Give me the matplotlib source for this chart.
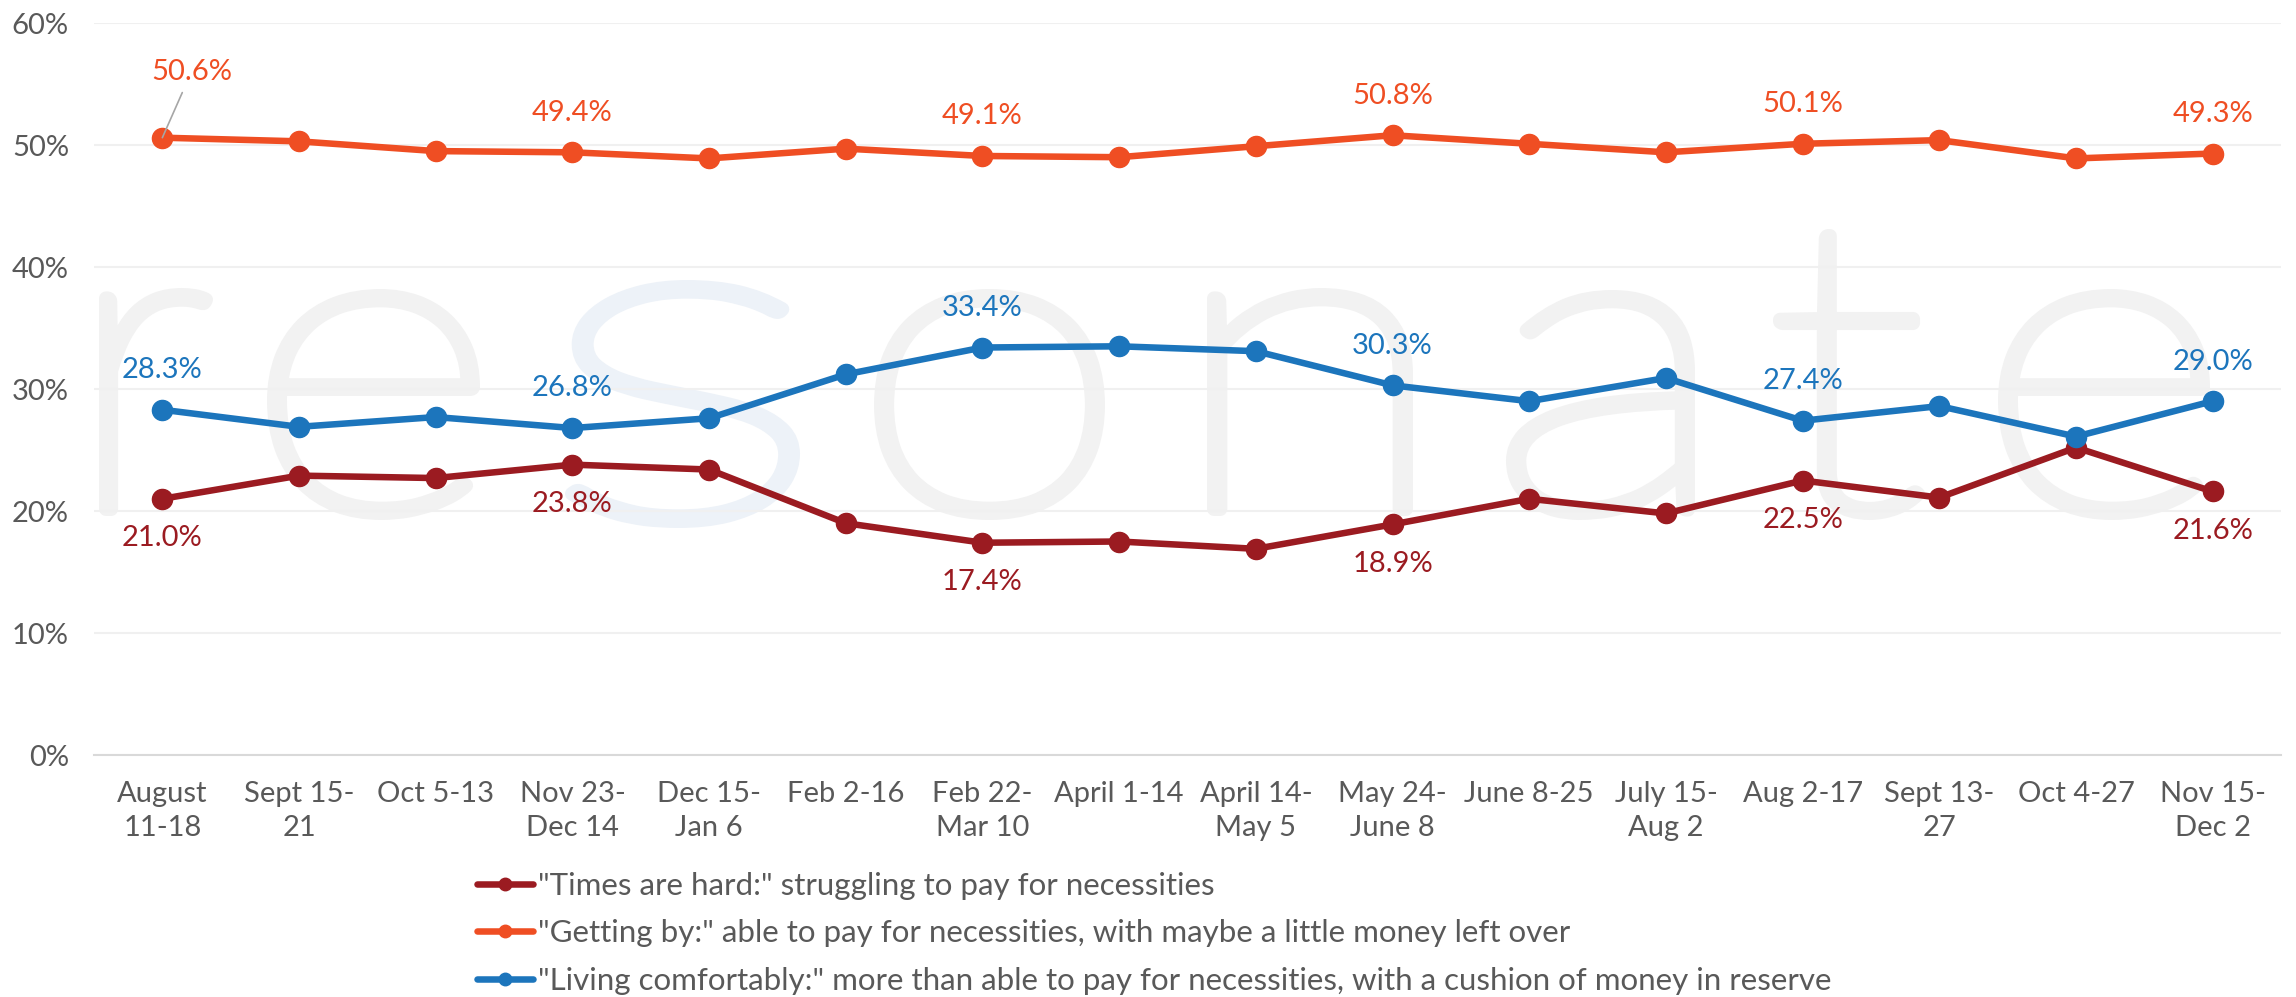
import matplotlib
matplotlib.use("Agg")
import matplotlib.pyplot as plt
from matplotlib.ticker import FuncFormatter, MultipleLocator
from matplotlib.textpath import TextPath
from matplotlib.patches import PathPatch
from matplotlib.font_manager import FontProperties
from matplotlib.transforms import Affine2D, IdentityTransform
import numpy as np

PERIODS = ["August\n11-18", "Sept 15-\n21", "Oct 5-13", "Nov 23-\nDec 14",
           "Dec 15-\nJan 6", "Feb 2-16", "Feb 22-\nMar 10", "April 1-14",
           "April 14-\nMay 5", "May 24-\nJune 8", "June 8-25", "July 15-\nAug 2",
           "Aug 2-17", "Sept 13-\n27", "Oct 4-27", "Nov 15-\nDec 2"]
HARD = [21.0, 22.9, 22.7, 23.8, 23.4, 19.0, 17.4, 17.5,
        16.9, 18.9, 21.0, 19.8, 22.5, 21.1, 25.2, 21.6]
GETTING_BY = [50.6, 50.3, 49.5, 49.4, 48.9, 49.7, 49.1, 49.0,
              49.9, 50.8, 50.1, 49.4, 50.1, 50.4, 48.9, 49.3]
COMFORTABLE = [28.3, 26.9, 27.7, 26.8, 27.6, 31.2, 33.4, 33.5,
               33.1, 30.3, 29.0, 30.9, 27.4, 28.6, 26.1, 29.0]
LABELED = [0, 3, 6, 9, 12, 15]

SERIES = [
    ("\"Times are hard:\" struggling to pay for necessities",
     HARD, "#9B1B21", -1),
    ("\"Getting by:\" able to pay for necessities, with maybe a little money left over",
     GETTING_BY, "#EF4E23", 1),
    ("\"Living comfortably:\" more than able to pay for necessities, with a cushion of money in reserve",
     COMFORTABLE, "#1C75BC", 1),
]

W, H = 2296, 997
TEXT_COLOR = "#595959"
matplotlib.rcParams["font.family"] = ["Lato", "DejaVu Sans"]
matplotlib.rcParams["font.size"] = 21

fig = plt.figure(figsize=(W / 100, H / 100), dpi=100)
ax = fig.add_axes([94 / W, 242 / H, (2281 - 94) / W, 732 / H])
ax.set_facecolor("none")

# faint "resonate" watermark, letter boxes in pixels (x0, x1, top, bottom)
WATERMARK = [("r", 99, 213, 288, 516), ("e", 267, 480, 289, 520),
             ("s", 565, 800, 280, 528), ("o", 874, 1105, 289, 520),
             ("n", 1207, 1413, 288, 516), ("a", 1506, 1695, 290, 520),
             ("t", 1773, 1925, 229, 520), ("e", 1998, 2210, 289, 520)]
wm_font = FontProperties(family="Lato", weight="light")
grow = 7  # half the extra stroke added by the outline, px
for ch, x0, x1, top, bottom in WATERMARK:
    tp = TextPath((0, 0), ch, size=100, prop=wm_font)
    ext = tp.get_extents()
    sx = (x1 - x0 - 2 * grow) / ext.width
    sy = (bottom - top - 2 * grow) / ext.height
    tr = Affine2D().translate(-ext.x0, -ext.y0).scale(sx, sy) \
                   .translate(x0 + grow, H - bottom + grow)
    col = "#EDF2F8" if ch == "s" else "#F2F2F2"
    fig.add_artist(PathPatch(tr.transform_path(tp), facecolor=col,
                             edgecolor=col, lw=grow * 2 * 0.72,
                             joinstyle="round", transform=IdentityTransform(),
                             zorder=-1))

x = np.arange(len(PERIODS))
for label, vals, color, side in SERIES:
    ax.plot(x, vals, color=color, lw=4.7, marker="o", markersize=14.5,
            solid_capstyle="round", label=label, zorder=3)
    for i in LABELED:
        txt = "{:.1f}%".format(vals[i])
        if i == 0 and vals is GETTING_BY:
            ax.annotate(txt, (x[i], vals[i]), xytext=(21, 47.5),
                        textcoords="offset points", ha="center", va="center",
                        color=color, fontsize=21,
                        arrowprops=dict(arrowstyle="-", color="#A6A6A6",
                                        lw=1.2, shrinkA=4, shrinkB=0))
        else:
            ax.annotate(txt, (x[i], vals[i]), xytext=(0, 28.5 * side),
                        textcoords="offset points", ha="center", va="center",
                        color=color, fontsize=21)

ax.set_xlim(-0.5, len(PERIODS) - 0.5)
ax.set_ylim(0, 60)
ax.yaxis.set_major_locator(MultipleLocator(10))
ax.yaxis.set_major_formatter(FuncFormatter(lambda v, p: "{:.0f}%".format(v)))
ax.set_xticks(x)
ax.set_xticklabels(PERIODS, linespacing=1.35)
ax.grid(axis="y", color="#F0F0F0", lw=1.5, zorder=0)
ax.set_axisbelow(True)
for s in ["top", "right", "left"]:
    ax.spines[s].set_visible(False)
ax.spines["bottom"].set_color("#D9D9D9")
ax.spines["bottom"].set_linewidth(1.5)
ax.tick_params(axis="both", length=0, colors=TEXT_COLOR, labelsize=21)
ax.tick_params(axis="y", pad=18)
ax.tick_params(axis="x", pad=19)

fig.legend(loc="upper left", bbox_to_anchor=(477 / W, 1 - 872 / H),
           frameon=False, ncol=1, handlelength=1.8, handletextpad=0.15,
           labelspacing=0.62, markerscale=0.62, labelcolor=TEXT_COLOR,
           fontsize=22.5, borderpad=0, borderaxespad=0)

fig.savefig("out.png", dpi=100)
